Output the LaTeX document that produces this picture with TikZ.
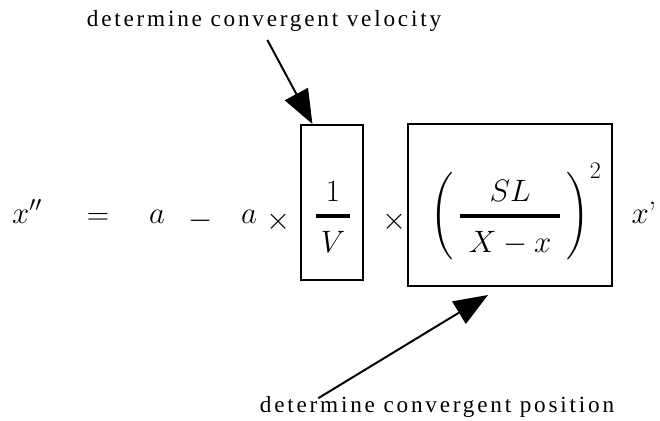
\RequirePackage{fix-cm}
\documentclass[tikz,border=0pt]{standalone}
\usepackage{amsmath}
\usepackage{fontspec}
\newfontfamily\lblfont[LetterSpace=12]{Liberation Serif}
\usetikzlibrary{arrows.meta}

\tikzset{
  sym/.style={inner sep=0pt, font=\fontsize{22}{26}\selectfont},
  eqbox/.style={draw, line width=1.4pt, inner sep=0pt},
  lbl/.style={anchor=base, inner sep=1pt, font=\lblfont\fontsize{16.5}{19}\selectfont},
  pointer/.style={line width=1.4pt, -{Triangle[length=0.85cm,width=0.65cm]}}
}

\begin{document}
\begin{tikzpicture}[x=0.025cm, y=-0.025cm]
  \useasboundingbox (0,0) rectangle (660,421);

  % Equation row
  \node[sym, anchor=base] (xdd) at (27,223) {$x''$};
  \node[sym] (eq) at (98,219) {$=$};
  \node[sym, anchor=base] (a1) at (157,223) {$a$};
  \node[sym] (minus) at (201,221) {$-$};
  \node[sym, anchor=base] (a2) at (249,223) {$a$};
  \node[sym] (times1) at (279,222) {$\times$};

  % First factor: velocity
  \node[eqbox, minimum width=1.55cm, minimum height=3.875cm] (box1) at (332,202.5) {};
  \node[sym, anchor=base] (frac1) at (333,224) {$\displaystyle{\,1\,\above 3pt \,V\,}$};

  \node[sym] (times2) at (395,222) {$\times$};

  % Second factor: position
  \node[eqbox, minimum width=5.1cm, minimum height=4.05cm] (box2) at (510,205) {};
  \node[sym, anchor=base] (frac2) at (516,224)
    {$\displaystyle\left(\rule[-27pt]{0pt}{65pt}\,{\;SL\; \above 3pt \;X - x\;}\,\right)^{\mbox{\fontsize{17}{20}\selectfont 2}}$};

  \node[sym, anchor=base] (xp) at (644,223) {$x$'};

  % Labels
  \node[lbl] (vlabel) at (264,27) {determine convergent velocity};
  \node[lbl] (plabel) at (437,412) {determine convergent position};

  \draw[pointer, shorten <=5pt] (vlabel.south) -- (box1.104);
  \draw[pointer] ([xshift=1.5cm,yshift=-0.1cm]plabel.north west) -- ([xshift=-0.55cm,yshift=-0.2cm]box2.south);
\end{tikzpicture}
\end{document}
